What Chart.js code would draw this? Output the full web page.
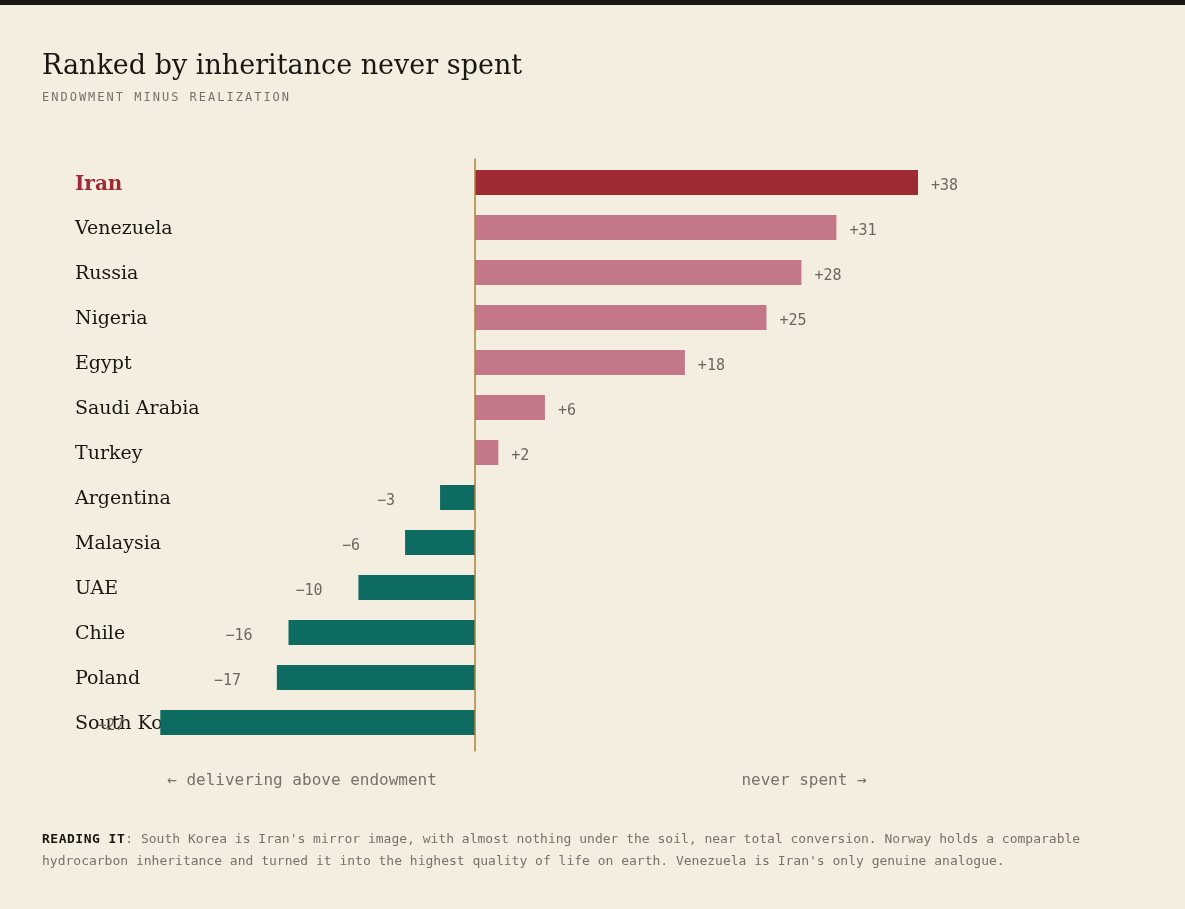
<!DOCTYPE html>
<html>
<head>
<meta charset="utf-8">
<script src="https://cdn.jsdelivr.net/npm/chart.js@4.4.0/dist/chart.umd.min.js"></script>
<style>
  html, body { margin: 0; padding: 0; }
  body { width: 1185px; height: 909px; background: #f4eee1; position: relative; overflow: hidden; }
  #topbar { position: absolute; left: 0; top: 0; width: 1185px; height: 5px; background: #1a1612; z-index: 2; }
  #wrap { position: absolute; left: 0; top: 0; width: 1185px; height: 909px; z-index: 0; }
  .txt { position: absolute; z-index: 1; white-space: nowrap; }
  #title { left: 42px; top: 51px; font-family: "DejaVu Serif", serif; font-size: 27px; line-height: 1; color: #1a1612; }
  #subtitle { left: 42px; top: 91px; font-family: "DejaVu Sans Mono", monospace; font-size: 12px; line-height: 1; letter-spacing: 2px; color: #7a7068; }
  .axisnote { width: 400px; text-align: center; top: 772px; font-family: "DejaVu Sans Mono", monospace; font-size: 16px; line-height: 1; color: #7a7068; }
  #footer { position: absolute; z-index: 1; left: 42px; top: 828px; width: 1100px; font-family: "DejaVu Sans Mono", monospace; font-size: 13px; line-height: 22px; color: #7a7068; }
  #footer b { color: #1a1612; letter-spacing: 0.5px; }
</style>
</head>
<body>
<div id="topbar"></div>
<div id="wrap"><canvas id="c"></canvas></div>
<div class="txt" id="title">Ranked by inheritance never spent</div>
<div class="txt" id="subtitle">ENDOWMENT MINUS REALIZATION</div>
<div class="txt axisnote" style="left:102px;">← delivering above endowment</div>
<div class="txt axisnote" style="left:604px;">never spent →</div>
<div id="footer"><b>READING IT</b>: South Korea is Iran's mirror image, with almost nothing under the soil, near total conversion. Norway holds a comparable hydrocarbon inheritance and turned it into the highest quality of life on earth. Venezuela is Iran's only genuine analogue.</div>
<script>
const categories = ["Iran", "Venezuela", "Russia", "Nigeria", "Egypt", "Saudi Arabia", "Turkey", "Argentina", "Malaysia", "UAE", "Chile", "Poland", "South Korea"];
const gapValues = [38, 31, 28, 25, 18, 6, 2, -3, -6, -10, -16, -17, -27];
const highlight = "Iran";

const RED = "#9e2a33", PINK = "#c47788", TEAL = "#0e6b62", ZERO = "#ad8236";
const xMin = Math.min(...gapValues) * 1.1;
const xMax = Math.max(...gapValues) * 1.5;

const rowLabels = {
  id: "rowLabels",
  beforeDatasetsDraw(chart) {
    const { ctx, scales } = chart;
    ctx.save();
    ctx.textAlign = "left";
    ctx.textBaseline = "middle";
    categories.forEach((name, i) => {
      const hi = name === highlight;
      ctx.font = (hi ? "bold 20px" : "19px") + ' "DejaVu Serif", serif';
      ctx.fillStyle = hi ? RED : "#1a1612";
      ctx.fillText(name, 75, scales.y.getPixelForValue(i) + 2);
    });
    ctx.restore();
  }
};

const zeroLine = {
  id: "zeroLine",
  afterDatasetsDraw(chart) {
    const { ctx, chartArea, scales } = chart;
    const x = scales.x.getPixelForValue(0);
    ctx.save();
    ctx.strokeStyle = ZERO;
    ctx.lineWidth = 1.5;
    ctx.beginPath();
    ctx.moveTo(x, chartArea.top - 1.5);
    ctx.lineTo(x, chartArea.bottom + 6.5);
    ctx.stroke();
    ctx.restore();
  }
};

const valueLabels = {
  id: "valueLabels",
  afterDatasetsDraw(chart) {
    const { ctx } = chart;
    const meta = chart.getDatasetMeta(0);
    ctx.save();
    ctx.font = '15px "DejaVu Sans Mono", monospace';
    ctx.fillStyle = "#6e665d";
    ctx.textBaseline = "middle";
    ctx.textAlign = "left";
    meta.data.forEach((bar, i) => {
      const v = gapValues[i];
      const txt = v >= 0 ? "+" + v : "\u2212" + Math.abs(v);
      const x = v >= 0 ? bar.x + 13 : bar.x - 63;
      ctx.fillText(txt, x, bar.y + 4);
    });
    ctx.restore();
  }
};

new Chart(document.getElementById("c"), {
  type: "bar",
  data: {
    labels: categories,
    datasets: [{
      data: gapValues,
      backgroundColor: (c) => categories[c.dataIndex] === highlight ? RED : (gapValues[c.dataIndex] >= 0 ? PINK : TEAL),
      borderWidth: 0,
      barPercentage: 25 / 45,
      categoryPercentage: 1
    }]
  },
  options: {
    indexAxis: "y",
    responsive: true,
    maintainAspectRatio: false,
    animation: false,
    layout: { padding: { left: 128.8, top: 160, right: 45.5, bottom: 164 } },
    plugins: { legend: { display: false }, tooltip: { enabled: false } },
    scales: {
      x: { type: "linear", min: xMin, max: xMax, display: false },
      y: { type: "category", display: false }
    }
  },
  plugins: [rowLabels, zeroLine, valueLabels]
});
</script>
</body>
</html>
